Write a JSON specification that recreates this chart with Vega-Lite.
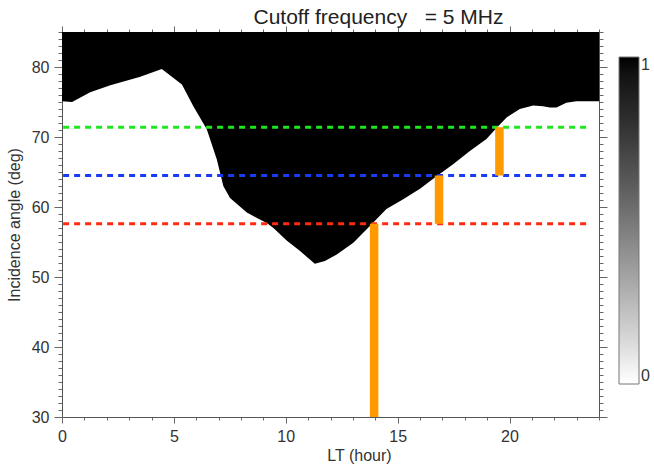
{
  "$schema": "https://vega.github.io/schema/vega-lite/v6.json",
  "width": 537,
  "height": 385,
  "autosize": "none",
  "padding": {"left": 62, "top": 32, "right": 55, "bottom": 51},
  "config": {"font": "Liberation Sans", "view": {"stroke": null}},
  "title": {"text": "Cutoff frequency\u00a0\u00a0 = 5 MHz", "fontSize": 21, "fontWeight": "normal", "color": "#222", "anchor": "middle", "dx": 48, "offset": -4},
  "datasets": {
    "boundary": [
      {"lt": 0, "angle": 75.1, "cut": 1},
      {"lt": 0.45, "angle": 75.0, "cut": 1},
      {"lt": 1.26, "angle": 76.4, "cut": 1},
      {"lt": 2.16, "angle": 77.4, "cut": 1},
      {"lt": 3.5, "angle": 78.6, "cut": 1},
      {"lt": 4.46, "angle": 79.7, "cut": 1},
      {"lt": 5.36, "angle": 77.5, "cut": 1},
      {"lt": 5.87, "angle": 74.4, "cut": 1},
      {"lt": 6.47, "angle": 71.1, "cut": 1},
      {"lt": 6.92, "angle": 66.8, "cut": 1},
      {"lt": 7.21, "angle": 63.0, "cut": 1},
      {"lt": 7.51, "angle": 61.3, "cut": 1},
      {"lt": 8.26, "angle": 59.2, "cut": 1},
      {"lt": 9.15, "angle": 57.7, "cut": 1},
      {"lt": 9.45, "angle": 57.0, "cut": 1},
      {"lt": 10.04, "angle": 55.2, "cut": 1},
      {"lt": 10.64, "angle": 53.7, "cut": 1},
      {"lt": 11.3, "angle": 51.9, "cut": 1},
      {"lt": 11.75, "angle": 52.3, "cut": 1},
      {"lt": 12.28, "angle": 53.2, "cut": 1},
      {"lt": 13.02, "angle": 54.9, "cut": 1},
      {"lt": 13.76, "angle": 57.3, "cut": 1},
      {"lt": 14.5, "angle": 59.7, "cut": 1},
      {"lt": 15.25, "angle": 61.1, "cut": 1},
      {"lt": 16.0, "angle": 62.6, "cut": 1},
      {"lt": 16.74, "angle": 64.4, "cut": 1},
      {"lt": 17.48, "angle": 66.1, "cut": 1},
      {"lt": 18.23, "angle": 68.0, "cut": 1},
      {"lt": 18.97, "angle": 69.7, "cut": 1},
      {"lt": 19.42, "angle": 71.3, "cut": 1},
      {"lt": 19.87, "angle": 72.8, "cut": 1},
      {"lt": 20.46, "angle": 74.0, "cut": 1},
      {"lt": 21.06, "angle": 74.5, "cut": 1},
      {"lt": 21.5, "angle": 74.4, "cut": 1},
      {"lt": 21.8, "angle": 74.2, "cut": 1},
      {"lt": 22.1, "angle": 74.2, "cut": 1},
      {"lt": 22.54, "angle": 74.9, "cut": 1},
      {"lt": 22.99, "angle": 75.1, "cut": 1},
      {"lt": 24, "angle": 75.1, "cut": 1}
    ],
    "levels": [
      {"level": "A", "angle": 71.4},
      {"level": "B", "angle": 64.5},
      {"level": "C", "angle": 57.6}
    ],
    "bars": [
      {"lt": 13.95, "lo": 30, "hi": 57.6},
      {"lt": 16.85, "lo": 57.6, "hi": 64.5},
      {"lt": 19.55, "lo": 64.5, "hi": 71.4}
    ]
  },
  "layer": [
    {
      "data": {"name": "boundary"},
      "mark": {"type": "area", "opacity": 1, "interpolate": "linear"},
      "encoding": {
        "x": {
          "field": "lt", "type": "quantitative",
          "scale": {"domain": [0, 24], "nice": false, "zero": false},
          "axis": {
            "orient": "bottom",
            "values": [0,1,2,3,4,5,6,7,8,9,10,11,12,13,14,15,16,17,18,19,20,21,22,23,24],
            "labelExpr": "datum.value % 5 === 0 && datum.value < 24 ? datum.label : ''",
            "tickSize": {"condition": {"test": "datum.value % 5 === 0", "value": 6}, "value": 3},
            "labelFontSize": 16, "labelColor": "#333", "labelPadding": 5,
            "labelFlush": false, "labelOverlap": false,
            "title": "LT (hour)", "titleFontSize": 16, "titleFontWeight": "normal", "titleColor": "#333",
            "titleX": 297, "titleY": 30,
            "tickColor": "#666", "domainColor": "#555", "grid": false
          }
        },
        "y": {
          "field": "angle", "type": "quantitative",
          "scale": {"domain": [30, 85], "nice": false, "zero": false},
          "axis": {
            "orient": "left",
            "values": [30,31,32,33,34,35,36,37,38,39,40,41,42,43,44,45,46,47,48,49,50,51,52,53,54,55,56,57,58,59,60,61,62,63,64,65,66,67,68,69,70,71,72,73,74,75,76,77,78,79,80,81,82,83,84,85],
            "labelExpr": "datum.value % 10 === 0 ? datum.label : ''",
            "tickSize": {"condition": {"test": "datum.value % 10 === 0", "value": 8}, "value": 4},
            "labelFontSize": 16, "labelColor": "#333", "labelPadding": 5,
            "labelFlush": false, "labelOverlap": false,
            "title": "Incidence angle (deg)", "titleFontSize": 16, "titleFontWeight": "normal", "titleColor": "#333",
            "titlePadding": 9,
            "tickColor": "#666", "domainColor": "#555", "grid": false
          }
        },
        "y2": {"datum": 85},
        "color": {
          "field": "cut", "type": "quantitative",
          "scale": {"domain": [0, 1], "range": ["#ffffff", "#000000"]},
          "legend": {
            "orient": "none", "legendX": 557, "legendY": 25, "direction": "vertical",
            "gradientLength": 327, "gradientThickness": 20, "title": null,
            "values": [0, 1], "format": "d", "labelFontSize": 16, "labelColor": "#333",
            "gradientStrokeColor": "#777", "gradientStrokeWidth": 1
          }
        }
      }
    },
    {
      "data": {"name": "levels"},
      "mark": {"type": "rule", "strokeDash": [6, 5], "strokeWidth": 3},
      "encoding": {
        "x": {"datum": 0.05, "type": "quantitative", "axis": null},
        "x2": {"datum": 23.55},
        "y": {"field": "angle", "type": "quantitative", "axis": null},
        "stroke": {
          "field": "level", "type": "nominal",
          "scale": {"domain": ["A", "B", "C"], "range": ["#1ee61e", "#1a3cf0", "#ff2a10"]},
          "legend": null
        }
      }
    },
    {
      "data": {"name": "bars"},
      "mark": {"type": "rule", "strokeWidth": 8.5, "color": "#ff9900"},
      "encoding": {
        "x": {
          "field": "lt", "type": "quantitative",
          "axis": {
            "orient": "top",
            "values": [0,1,2,3,4,5,6,7,8,9,10,11,12,13,14,15,16,17,18,19,20,21,22,23,24],
            "labels": false,
            "tickSize": {"condition": {"test": "datum.value % 5 === 0", "value": 6}, "value": 3},
            "title": null, "tickColor": "#666", "domainColor": "#555", "grid": false
          }
        },
        "y": {
          "field": "lo", "type": "quantitative",
          "axis": {
            "orient": "right",
            "values": [30,31,32,33,34,35,36,37,38,39,40,41,42,43,44,45,46,47,48,49,50,51,52,53,54,55,56,57,58,59,60,61,62,63,64,65,66,67,68,69,70,71,72,73,74,75,76,77,78,79,80,81,82,83,84,85],
            "labels": false,
            "tickSize": {"condition": {"test": "datum.value % 10 === 0", "value": 8}, "value": 4},
            "title": null, "tickColor": "#666", "domainColor": "#555", "grid": false
          }
        },
        "y2": {"field": "hi"}
      }
    }
  ],
  "resolve": {"axis": {"x": "independent", "y": "independent"}}
}
